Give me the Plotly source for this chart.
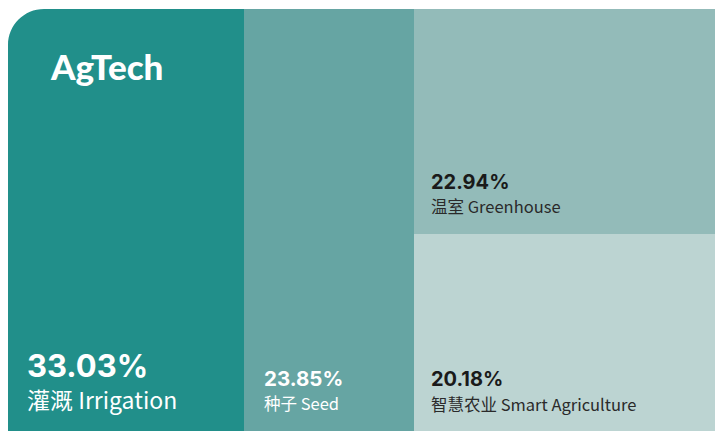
import numpy as np
import plotly.graph_objects as go

# ---- data ----
names_cn = ["灌溉", "种子", "温室", "智慧农业"]
names_en = ["Irrigation", "Seed", "Greenhouse", "Smart Agriculture"]
shares = [33.03, 23.85, 22.94, 20.18]
column = [0, 1, 2, 2]          # which column each block sits in (stacked top-down)
logo_text = "AgTech"

# ---- style ----
colors = ["#218f8a", "#66a5a3", "#93bbb9", "#bcd4d2"]
pct_colors = ["#ffffff", "#ffffff", "#1a1a1a", "#1a1a1a"]
name_colors = ["#ffffff", "#ffffff", "#2a2a2a", "#2a2a2a"]
pct_sizes = [31, 20.5, 20, 20]
name_sizes = [23, 16.5, 16.5, 16.5]

W, H = 715, 431
ML, MT = 8, 9

shares_a = np.array(shares)
column_a = np.array(column)
ncol = column_a.max() + 1
col_w = np.array([shares_a[column_a == c].sum() for c in range(ncol)])
col_left = np.concatenate([[0], np.cumsum(col_w)[:-1]])

x_center, widths, bases, heights, lefts = [], [], [], [], []
col_top = {c: 1.0 for c in range(ncol)}
for s, c in zip(shares, column):
    h = s / col_w[c]
    b = col_top[c] - h
    col_top[c] = b
    x_center.append(col_left[c] + col_w[c] / 2)
    widths.append(col_w[c])
    bases.append(b)
    heights.append(h)
    lefts.append(col_left[c])

fig = go.Figure()
for i in range(len(shares)):
    fig.add_trace(go.Bar(
        x=[x_center[i]], y=[heights[i]], base=[bases[i]], width=[widths[i]],
        marker=dict(color=colors[i], line=dict(width=0)),
        hoverinfo="skip", showlegend=False,
    ))

pct_font = "Inter, 'Open Sans', sans-serif"
name_font = "'Noto Sans CJK SC', sans-serif"
pct_shift = [46, 39, 39, 39]
name_shift = [14, 15, 15, 14]
x_pad = [18, 19, 16, 16]
ann = []
for i in range(len(shares)):
    ann.append(dict(
        x=lefts[i], y=bases[i], xref="x", yref="y", xanchor="left", yanchor="bottom",
        xshift=x_pad[i], yshift=pct_shift[i], showarrow=False, borderpad=0,
        text=f"<b>{shares[i]:.2f}%</b>",
        font=dict(family=pct_font, size=pct_sizes[i], color=pct_colors[i]),
    ))
    ann.append(dict(
        x=lefts[i], y=bases[i], xref="x", yref="y", xanchor="left", yanchor="bottom",
        xshift=x_pad[i], yshift=name_shift[i], showarrow=False, borderpad=0,
        text=f"{names_cn[i]} {names_en[i]}",
        font=dict(family=name_font, size=name_sizes[i], color=name_colors[i]),
    ))

plot_w = W - ML
ann.append(dict(
    x=(48 - ML) / plot_w, y=1, xref="paper", yref="paper", xanchor="left", yanchor="top",
    yshift=-34, showarrow=False, text=logo_text,
    font=dict(family="Lato, sans-serif", size=35, color="#ffffff", weight=900),
))

# rounded top-left corner mask
r = 36
dx, dy = r / plot_w, r / (H - MT)
k = 0.5523
path = (f"M {dx},1 C {dx*(1-k)},1 0,{1-dy*(1-k)} 0,{1-dy} L 0,1.01 L {dx},1.01 Z")

fig.update_layout(
    width=W, height=H,
    margin=dict(l=ML, r=0, t=MT, b=0),
    paper_bgcolor="#ffffff", plot_bgcolor="#ffffff",
    barmode="overlay", bargap=0,
    xaxis=dict(range=[0, 98.95], visible=False, fixedrange=True),
    yaxis=dict(range=[0.0, 1.0], visible=False, fixedrange=True),
    annotations=ann,
    shapes=[dict(type="path", xref="paper", yref="paper", path=path,
                 fillcolor="#ffffff", line=dict(width=0), layer="above")],
)

fig.write_html(
    "out.html",
    config={"displayModeBar": False},
    post_script="document.body.style.margin='0';document.documentElement.style.overflow='hidden';",
)
